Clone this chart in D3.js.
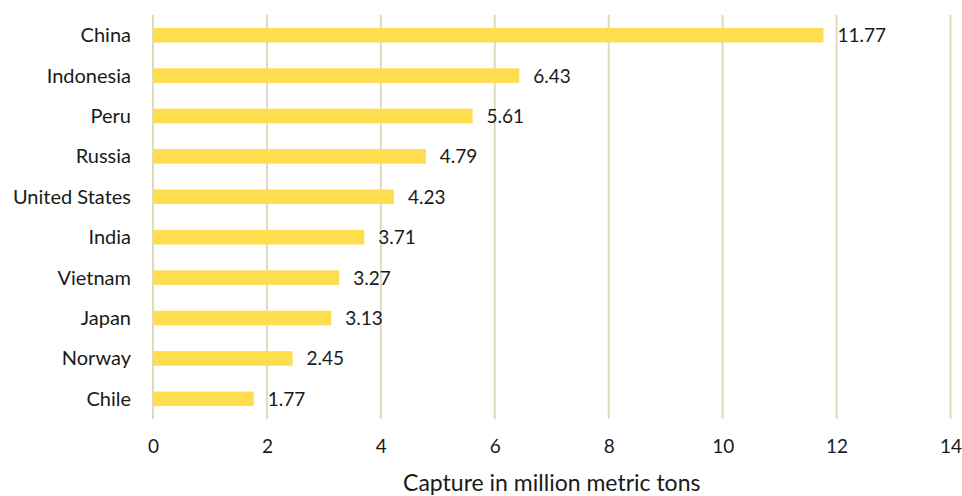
<!DOCTYPE html>
<html>
<head>
<meta charset="utf-8">
<script src="https://cdn.jsdelivr.net/npm/d3@7"></script>
<style>
  body { margin: 0; background: #fff; }
  text { font-family: Lato, "Open Sans", sans-serif; fill: #1a1a1a; }
</style>
</head>
<body>
<svg id="chart"></svg>
<script>
var countries = ["China","Indonesia","Peru","Russia","United States","India","Vietnam","Japan","Norway","Chile"];
var capture = [11.77, 6.43, 5.61, 4.79, 4.23, 3.71, 3.27, 3.13, 2.45, 1.77];
var xTicks = [0, 2, 4, 6, 8, 10, 12, 14];

var W = 962, H = 496;
var plotL = 153, plotR = 950.5, plotT = 15, plotB = 419;

var svg = d3.select("#chart").attr("width", W).attr("height", H);

var x = d3.scaleLinear().domain([0, 14]).range([plotL, plotR]);
var y = d3.scaleBand().domain(countries).range([plotT, plotB]).paddingInner(0.64).paddingOuter(0.32);

// gridlines
svg.append("g")
  .selectAll("line")
  .data(xTicks)
  .enter().append("line")
    .attr("x1", d => x(d)).attr("x2", d => x(d))
    .attr("y1", plotT).attr("y2", plotB)
    .attr("stroke", "#dedbbd")
    .attr("stroke-width", 2);

// bars
svg.append("g")
  .selectAll("rect")
  .data(capture)
  .enter().append("rect")
    .attr("x", x(0) + 1)
    .attr("y", (d, i) => y(countries[i]))
    .attr("width", d => x(d) - x(0) - 1)
    .attr("height", y.bandwidth())
    .attr("fill", "#fedd4e");

// value labels
svg.append("g")
  .selectAll("text")
  .data(capture)
  .enter().append("text")
    .attr("x", d => x(d) + 14)
    .attr("y", (d, i) => y(countries[i]) + y.bandwidth() / 2 + 7)
    .attr("font-size", 19)
    .text(d => d.toFixed(2));

// category labels
svg.append("g")
  .selectAll("text")
  .data(countries)
  .enter().append("text")
    .attr("x", 131)
    .attr("y", d => y(d) + y.bandwidth() / 2 + 7)
    .attr("text-anchor", "end")
    .attr("font-size", 20)
    .text(d => d);

// x axis tick labels
var xAxis = svg.append("g")
  .attr("transform", "translate(0," + (plotB + 10) + ")")
  .call(d3.axisBottom(x).tickValues(xTicks).tickSize(0).tickPadding(11));
xAxis.select(".domain").remove();
xAxis.selectAll("text").attr("font-size", 19).attr("font-family", "Lato, 'Open Sans', sans-serif").attr("fill", "#1a1a1a");

// axis title
svg.append("text")
  .attr("x", (plotL + plotR) / 2)
  .attr("y", 491)
  .attr("text-anchor", "middle")
  .attr("font-size", 23)
  .text("Capture in million metric tons");
</script>
</body>
</html>
